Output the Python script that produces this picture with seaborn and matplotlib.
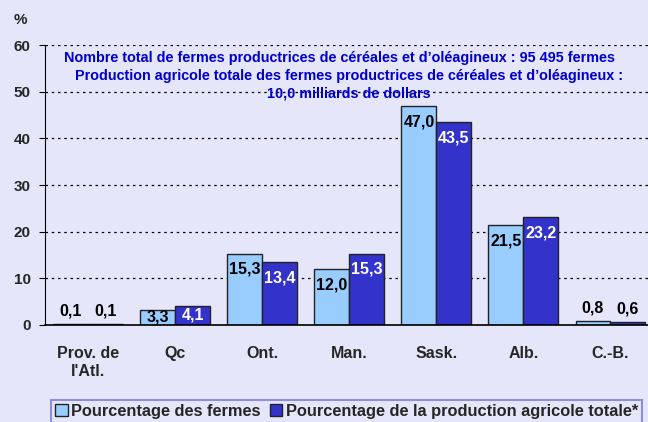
import matplotlib.pyplot as plt
import pandas as pd
import seaborn as sns

# Colors
BG_COLOR = "#E6E6FA"
LIGHT_BAR = "#99CCFF"
DARK_BAR = "#3333CC"
NOTE_COLOR = "#0000CC"

# Data
provinces = ["Prov. de\nl'Atl.", "Qc", "Ont.", "Man.", "Sask.", "Alb.", "C.-B."]
pct_farms = [0.1, 3.3, 15.3, 12.0, 47.0, 21.5, 0.8]
pct_production = [0.1, 4.1, 13.4, 15.3, 43.5, 23.2, 0.6]
series_names = ["Pourcentage des fermes", "Pourcentage de la production agricole totale*"]
y_ticks = [0, 10, 20, 30, 40, 50, 60]

note_lines = [
    "Nombre total de fermes productrices de céréales et d\u2019oléagineux : 95 495 fermes",
    "Production agricole totale des fermes productrices de céréales et d\u2019oléagineux :",
    "10,0 milliards de dollars",
]

sns.set_style("white")
plt.rcParams['font.family'] = ['Liberation Sans', 'DejaVu Sans']

df = pd.DataFrame({
    "province": provinces * 2,
    "value": pct_farms + pct_production,
    "serie": [series_names[0]] * len(provinces) + [series_names[1]] * len(provinces),
})

fig = plt.figure(figsize=(6.48, 4.22), dpi=100, facecolor=BG_COLOR)
ax = fig.add_axes([0.069, 0.23, 0.94, 0.663])
ax.set_facecolor(BG_COLOR)

sns.barplot(data=df, x="province", y="value", hue="serie", order=provinces,
            hue_order=series_names, palette=[LIGHT_BAR, DARK_BAR], saturation=1,
            edgecolor="#222222", linewidth=1, width=0.8, ax=ax, legend=True)

ax.set_ylim(0, 60)
ax.set_yticks(y_ticks)
ax.set_xlabel("")
ax.set_ylabel("")
ax.yaxis.grid(True, color="black", linestyle=(0, (2, 3)), linewidth=0.9)
ax.set_axisbelow(True)
for side in ["top", "right"]:
    ax.spines[side].set_visible(False)
ax.spines["left"].set_color("black")
ax.spines["bottom"].set_color("black")
ax.spines["bottom"].set_linewidth(1.2)
ax.tick_params(axis="y", left=True, length=4, color="black", labelsize=11, pad=6)
ax.tick_params(axis="x", bottom=False, labelsize=11.5, pad=12)
for lbl in ax.get_xticklabels() + ax.get_yticklabels():
    lbl.set_fontweight("bold")

# Value labels: inside the bar top, or above the bar when it is too thin
for container, text_color in zip(ax.containers, ["black", "white"]):
    for bar in container:
        v = bar.get_height()
        x = bar.get_x() + bar.get_width() / 2
        label = f"{v:.1f}".replace(".", ",")
        if v < 2:
            ax.annotate(label, (x, v), xytext=(0, 4), textcoords="offset points",
                        ha="center", va="bottom", fontsize=11.5,
                        fontweight="bold", color="black")
        else:
            ax.text(x, max(v - 3.4, v / 2), label, ha="center", va="center",
                    fontsize=11.5, fontweight="bold", color=text_color)

# Note
note_x = [0.484, 0.5, 0.5]
for i, line in enumerate(note_lines):
    ax.text(note_x[i], 0.954 - i * 0.064, line, transform=ax.transAxes,
            ha="center", va="center", fontsize=10.4, fontweight="bold", color=NOTE_COLOR)

fig.text(0.031, 0.952, "%", ha="center", va="center", fontsize=11, fontweight="bold")

# Legend
handles, labels = ax.get_legend_handles_labels()
ax.get_legend().remove()
leg = fig.legend(handles, labels, loc="upper left", bbox_to_anchor=(0.079, 0.052),
                 ncol=2, frameon=True, fancybox=False, handlelength=0.75,
                 handleheight=0.75, handletextpad=0.2, columnspacing=0.6,
                 borderpad=0.25, borderaxespad=0, prop={"weight": "bold", "size": 11.8})
leg.get_frame().set_facecolor(BG_COLOR)
leg.get_frame().set_edgecolor("#7777DD")
leg.get_frame().set_linewidth(1.5)
for h in leg.legend_handles:
    h.set_edgecolor("#222222")

plt.savefig("out.png", dpi=100, facecolor=BG_COLOR)
